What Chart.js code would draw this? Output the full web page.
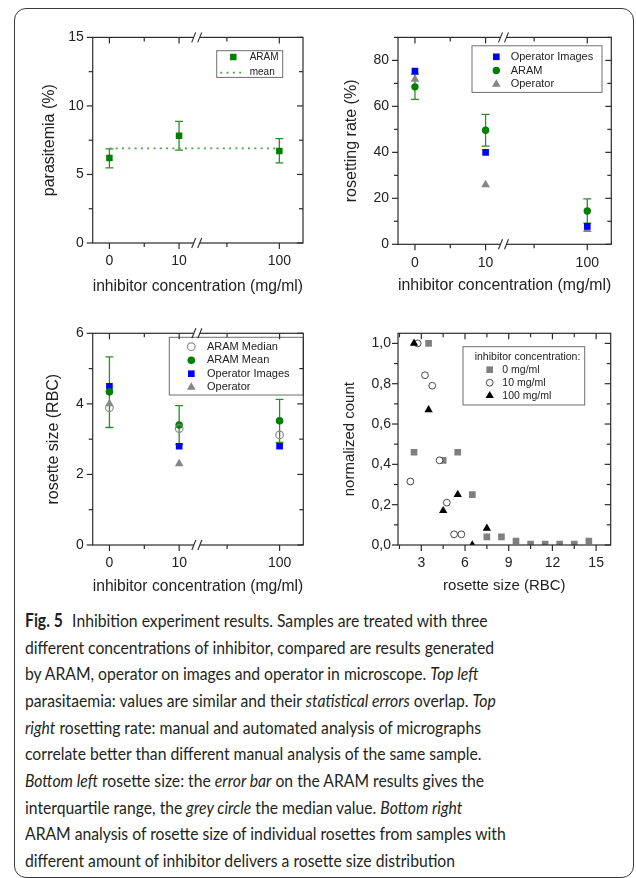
<!DOCTYPE html>
<html>
<head>
<meta charset="utf-8">
<script src="https://cdn.jsdelivr.net/npm/chart.js@4.4.1/dist/chart.umd.min.js"></script>
<style>
  body { margin: 0; background: #fff; width: 636px; height: 878px; position: relative; overflow: hidden; }
  #frame { position: absolute; left: 14px; top: 8px; width: 618px; height: 868px; border: 1.3px solid #3a3a3a; border-radius: 12px; }
  canvas { position: absolute; }
  #caption { position: absolute; left: 25px; top: 607px; font-family: Lato, 'Open Sans', sans-serif; font-size: 18px; line-height: 26.67px; color: #231f20; white-space: nowrap; transform-origin: 0 0; }
  #caption b { font-weight: 700; margin-right: 6px; }
  #line9 { display: inline-block; }
</style>
</head>
<body>
<div id="frame"></div>
<canvas id="tl" width="300" height="285" style="left:20px;top:20px"></canvas>
<canvas id="tr" width="300" height="285" style="left:325px;top:20px"></canvas>
<canvas id="bl" width="300" height="305" style="left:20px;top:300px"></canvas>
<canvas id="br" width="300" height="305" style="left:325px;top:300px"></canvas>
<div id="caption">
  <div><b>Fig. 5</b> Inhibition experiment results. Samples are treated with three</div>
  <div>different concentrations of inhibitor, compared are results generated</div>
  <div>by ARAM, operator on images and operator in microscope. <i>Top left</i></div>
  <div>parasitaemia: values are similar and their <i>statistical errors</i> overlap. <i>Top</i></div>
  <div><i>right</i> rosetting rate: manual and automated analysis of micrographs</div>
  <div>correlate better than different manual analysis of the same sample.</div>
  <div><i>Bottom left</i> rosette size: the <i>error bar</i> on the ARAM results gives the</div>
  <div>interquartile range, the <i>grey circle</i> the median value. <i>Bottom right</i></div>
  <div><span id="line9">ARAM analysis of rosette size of individual rosettes from samples with</span></div>
  <div>different amount of inhibitor delivers a rosette size distribution</div>
</div>
<script>
//inhibitor concentrations (mg/ml), shown on a broken axis
const concValues = [0, 10, 100];
const concLabels = ["0", "10", "100"];
const concMinor = [5, 30];
const concBreak = 15;

//top left: parasitemia (%)
const parasitemiaAram = [6.2, 7.82, 6.72];
const parasitemiaLow = [5.48, 6.77, 5.84];
const parasitemiaHigh = [6.87, 8.88, 7.61];
const parasitemiaMean = 6.91;
const parasitemiaTicks = [0, 5, 10, 15];
const parasitemiaMinor = [2.5, 7.5, 12.5];

//top right: rosetting rate (%)
const rateOperatorImages = [75.3, 40.0, 7.8];
const rateAram = [68.5, 49.6, 14.5];
const rateAramLow = [63.0, 42.7, 9.2];
const rateAramHigh = [74.0, 56.5, 19.8];
const rateOperator = [71.8, 25.9, 6.4];
const rateTicks = [0, 20, 40, 60, 80];
const rateMinor = [10, 30, 50, 70, 90];

//bottom left: rosette size (RBC)
const sizeAramMedian = [3.89, 3.3, 3.12];
const sizeAramMean = [4.34, 3.4, 3.52];
const sizeAramQ1 = [3.33, 2.85, 2.91];
const sizeAramQ3 = [5.33, 3.95, 4.13];
const sizeOperatorImages = [4.5, 2.8, 2.8];
const sizeOperator = [4.0, 2.3, null];
const sizeTicks = [0, 2, 4, 6];
const sizeMinor = [1, 3, 5];

//bottom right: rosette size distribution
const bins0 = [2.5, 3.5, 4.5, 5.5, 6.5, 7.5, 8.5, 9.5, 10.5, 11.5, 12.5, 13.5, 14.5];
const count0 = [0.46, 1.0, 0.42, 0.46, 0.25, 0.04, 0.04, 0.02, 0.005, 0.005, 0.005, 0.005, 0.02];
const bins10 = [2.25, 2.75, 3.25, 3.75, 4.25, 4.75, 5.25, 5.75];
const count10 = [0.315, 1.0, 0.842, 0.79, 0.42, 0.21, 0.053, 0.053];
const bins100 = [2.5, 3.5, 4.5, 5.5, 6.5, 7.5];
const count100 = [1.0, 0.67, 0.17, 0.25, 0.0, 0.083];
const distXTicks = [3, 6, 9, 12, 15];
const distXMinor = [1.5, 4.5, 7.5, 10.5, 13.5];
const distYTicks = [0, 0.2, 0.4, 0.6, 0.8, 1.0];
const distYMinor = [0.1, 0.3, 0.5, 0.7, 0.9];

const GREEN = "#008000";
const BAR_GREEN = "#2e8b2e";
const BLUE = "#0000ff";
const GREY = "#858585";
const TEXT = "#222";

Chart.defaults.font.family = "'Liberation Sans', Arial, sans-serif";
Chart.defaults.color = TEXT;

//0..10 linear, then squeezed after the break up to 100
const xPos = (c) => (c <= 10 ? c / 10 : 1 + Math.log10(c / 10) * 1.44);
const pts = (xs, ys) => xs.map((x, i) => ({ x: x, y: ys[i] }));
const concPts = (ys) => pts(concValues.map(xPos), ys);

function drawMarker(ctx, ds, x, y) {
  const r = ds.pointRadius;
  ctx.beginPath();
  if (ds.pointStyle === "rect") {
    const s = r * Math.SQRT1_2;
    ctx.rect(x - s, y - s, 2 * s, 2 * s);
  } else if (ds.pointStyle === "triangle") {
    let rad = 0;
    ctx.moveTo(x, y - r);
    for (let k = 0; k < 2; k++) {
      rad += (2 * Math.PI) / 3;
      ctx.lineTo(x + Math.sin(rad) * r, y - Math.cos(rad) * r);
    }
    ctx.closePath();
  } else {
    ctx.arc(x, y, r, 0, Math.PI * 2);
  }
  ctx.fillStyle = ds.pointBackgroundColor;
  ctx.fill();
  if (ds.pointBorderWidth) {
    ctx.lineWidth = ds.pointBorderWidth;
    ctx.strokeStyle = ds.pointBorderColor;
    ctx.stroke();
  }
}

//error bars under the markers
const errorBars = {
  id: "errorBars",
  beforeDatasetsDraw(chart) {
    const { ctx } = chart;
    const y = chart.scales.y;
    chart.data.datasets.forEach((ds, k) => {
      if (!ds.errLow) return;
      ctx.save();
      ctx.strokeStyle = BAR_GREEN;
      ctx.lineWidth = 1.3;
      chart.getDatasetMeta(k).data.forEach((pt, i) => {
        const lo = y.getPixelForValue(ds.errLow[i]);
        const hi = y.getPixelForValue(ds.errHigh[i]);
        ctx.beginPath();
        ctx.moveTo(pt.x, lo);
        ctx.lineTo(pt.x, hi);
        ctx.moveTo(pt.x - 4, lo);
        ctx.lineTo(pt.x + 4, lo);
        ctx.moveTo(pt.x - 4, hi);
        ctx.lineTo(pt.x + 4, hi);
        ctx.stroke();
      });
      ctx.restore();
    });
  },
};

//box, ticks in/out and the axis break
const frame = {
  id: "frame",
  afterDraw(chart, args, o) {
    const { ctx, chartArea: a } = chart;
    const { x, y } = chart.scales;
    ctx.save();
    ctx.strokeStyle = "#2b2b2b";
    ctx.lineWidth = 1.2;
    ctx.strokeRect(a.left, a.top, a.right - a.left, a.bottom - a.top);
    const line = (x0, y0, x1, y1) => {
      ctx.beginPath();
      ctx.moveTo(x0, y0);
      ctx.lineTo(x1, y1);
      ctx.stroke();
    };
    const yTicks = (vals, len) =>
      vals.forEach((v) => {
        const py = y.getPixelForValue(v);
        line(a.left - len, py, a.left, py);
        line(a.right, py, a.right - len, py);
      });
    const xTicks = (vals, len) =>
      vals.forEach((v) => {
        const px = x.getPixelForValue(v);
        line(px, a.bottom, px, a.bottom + len);
        line(px, a.top, px, a.top + len);
      });
    yTicks(o.yMajor, 6);
    yTicks(o.yMinor, 4);
    xTicks(o.xMajor, 6);
    xTicks(o.xMinor, 4);
    if (o.breakAt != null) {
      const px = x.getPixelForValue(o.breakAt);
      [a.top, a.bottom].forEach((py) => {
        ctx.fillStyle = "#fff";
        ctx.fillRect(px - 3, py - 2, 6, 4);
        ctx.lineWidth = 1.1;
        line(px - 5, py + 5, px - 1, py - 5);
        line(px + 1, py + 5, px + 5, py - 5);
      });
    }
    ctx.restore();
  },
};

//legend box inside the plot area
const boxLegend = {
  id: "boxLegend",
  afterDatasetsDraw(chart, args, o) {
    if (!o.width) return;
    const { ctx, chartArea: a } = chart;
    const x0 = a.right - o.right - o.width;
    const y0 = a.top + o.top;
    ctx.save();
    ctx.fillStyle = "#fff";
    ctx.fillRect(x0, y0, o.width, o.height);
    ctx.strokeStyle = "#6e6e6e";
    ctx.lineWidth = 1;
    ctx.strokeRect(x0, y0, o.width, o.height);
    ctx.font = o.fontSize + "px 'Liberation Sans', Arial, sans-serif";
    ctx.textBaseline = "middle";
    let row = 0;
    if (o.title) {
      ctx.fillStyle = TEXT;
      ctx.fillText(o.title, x0 + o.titleX, y0 + o.firstRow);
      row = 1;
    }
    o.order.forEach((k) => {
      const ds = chart.data.datasets[k];
      const yy = y0 + o.firstRow + row * o.rowGap;
      if (ds.showLine) {
        ctx.save();
        ctx.strokeStyle = ds.borderColor;
        ctx.lineWidth = ds.borderWidth;
        ctx.setLineDash(ds.borderDash);
        ctx.beginPath();
        ctx.moveTo(x0 + o.markerX - 13, yy);
        ctx.lineTo(x0 + o.markerX + 11, yy);
        ctx.stroke();
        ctx.restore();
      } else {
        drawMarker(ctx, ds, x0 + o.markerX, yy);
      }
      ctx.fillStyle = TEXT;
      ctx.fillText(ds.label, x0 + o.textX, yy);
      row++;
    });
    ctx.restore();
  },
};

function axis(c) {
  return {
    type: "linear",
    min: c.min,
    max: c.max,
    afterBuildTicks: (s) => {
      s.ticks = c.ticks.map((v) => ({ value: v }));
    },
    afterFit: (s) => {
      if (c.width) s.width = c.width;
      if (c.height) s.height = c.height;
    },
    grid: { display: false, drawTicks: false },
    border: { display: false },
    ticks: {
      autoSkip: false,
      maxRotation: 0,
      padding: c.tickPad,
      font: { size: 14 },
      color: TEXT,
      callback: c.labels,
    },
    title: {
      display: true,
      text: c.title,
      color: TEXT,
      font: { size: c.titleSize || 16 },
      padding: c.titlePad,
    },
  };
}

function makePanel(id, p) {
  return new Chart(document.getElementById(id), {
    type: "scatter",
    data: { datasets: p.datasets },
    options: {
      responsive: false,
      animation: false,
      events: [],
      layout: { padding: { top: p.padTop, right: p.padRight, left: 0, bottom: 0 } },
      plugins: {
        legend: { display: false },
        tooltip: { enabled: false },
        frame: p.frame,
        boxLegend: p.legend,
      },
      scales: { x: p.x, y: p.y },
    },
    plugins: [errorBars, frame, boxLegend],
  });
}

const concAxis = (height, titlePad) =>
  axis({
    min: -0.24,
    max: 2.78,
    ticks: concValues.map(xPos),
    labels: (v, i) => concLabels[i],
    height: height,
    tickPad: 10,
    title: "inhibitor concentration (mg/ml)",
    titlePad: { top: 0, bottom: titlePad },
  });

const concFrame = (yMajor, yMinor) => ({
  yMajor: yMajor,
  yMinor: yMinor,
  xMajor: concValues.map(xPos),
  xMinor: concMinor.map(xPos),
  breakAt: xPos(concBreak),
});

const sq = (color, r) => ({ pointStyle: "rect", pointRadius: r, pointBackgroundColor: color, pointBorderWidth: 0 });
const dot = (color, r) => ({ pointStyle: "circle", pointRadius: r, pointBackgroundColor: color, pointBorderWidth: 0 });
const tri = (color, r) => ({ pointStyle: "triangle", pointRadius: r, pointBackgroundColor: color, pointBorderWidth: 0 });

//top left
makePanel("tl", {
  padTop: 14,
  padRight: 17,
  datasets: [
    { label: "ARAM", data: concPts(parasitemiaAram), errLow: parasitemiaLow, errHigh: parasitemiaHigh, ...sq(GREEN, 4.6) },
    {
      label: "mean",
      type: "line",
      showLine: true,
      data: pts([0, 100].map(xPos), [parasitemiaMean, parasitemiaMean]),
      borderColor: "#4fa04f",
      borderWidth: 1.8,
      borderDash: [2, 4.3],
      pointRadius: 0,
    },
  ],
  x: concAxis(62, 8.7),
  y: axis({
    min: 0, max: 15, ticks: parasitemiaTicks, labels: (v) => v, width: 72.7, tickPad: 9,
    title: "parasitemia (%)", titlePad: { top: 19.7, bottom: 0 },
  }),
  frame: concFrame(parasitemiaTicks, parasitemiaMinor),
  legend: { right: 20.3, top: 13.3, width: 66, height: 26.7, fontSize: 10, firstRow: 6.3, rowGap: 15.6, markerX: 16.6, textX: 33, order: [0, 1] },
});

//top right
makePanel("tr", {
  padTop: 12.3,
  padRight: 13.7,
  datasets: [
    { label: "Operator Images", data: concPts(rateOperatorImages), ...sq(BLUE, 4.7) },
    { label: "ARAM", data: concPts(rateAram), errLow: rateAramLow, errHigh: rateAramHigh, ...dot(GREEN, 3.7) },
    { label: "Operator", data: concPts(rateOperator), ...tri(GREY, 5) },
  ],
  x: concAxis(60.7, 9.7),
  y: axis({
    min: 0, max: 90, ticks: rateTicks, labels: (v) => v, width: 73, tickPad: 9,
    title: "rosetting rate (%)", titlePad: { top: 16.7, bottom: 0 },
  }),
  frame: concFrame(rateTicks, rateMinor),
  legend: { right: 9.3, top: 8.4, width: 130, height: 46.6, fontSize: 11, firstRow: 11, rowGap: 13.7, markerX: 24.3, textX: 38.7, order: [0, 1, 2] },
});

//bottom left
makePanel("bl", {
  padTop: 33.3,
  padRight: 16.7,
  datasets: [
    {
      label: "ARAM Median",
      data: concPts(sizeAramMedian),
      pointStyle: "circle",
      pointRadius: 3.8,
      pointBackgroundColor: "rgba(255,255,255,0)",
      pointBorderColor: "#8c8c8c",
      pointBorderWidth: 1.2,
    },
    { label: "ARAM Mean", data: concPts(sizeAramMean), errLow: sizeAramQ1, errHigh: sizeAramQ3, ...dot(GREEN, 3.8) },
    { label: "Operator Images", data: concPts(sizeOperatorImages), ...sq(BLUE, 4.7) },
    { label: "Operator", data: concPts(sizeOperator), ...tri(GREY, 5) },
  ],
  x: concAxis(60, 8.4),
  y: axis({
    min: 0, max: 6, ticks: sizeTicks, labels: (v) => v, width: 72.7, tickPad: 9,
    title: "rosette size (RBC)", titlePad: { top: 23.7, bottom: 0 },
  }),
  frame: concFrame(sizeTicks, sizeMinor),
  legend: { right: 0, top: 4, width: 134, height: 57.7, fontSize: 11, firstRow: 9.4, rowGap: 13.5, markerX: 22, textX: 37.7, order: [0, 1, 2, 3] },
});

//bottom right
makePanel("br", {
  padTop: 33.3,
  padRight: 14.3,
  datasets: [
    { label: "0 mg/ml", data: pts(bins0, count0), order: 3, clip: 0, ...sq("#7f7f7f", 4.7) },
    {
      label: "10 mg/ml",
      data: pts(bins10, count10),
      order: 2,
      clip: 0,
      pointStyle: "circle",
      pointRadius: 3.4,
      pointBackgroundColor: "#fff",
      pointBorderColor: "#333",
      pointBorderWidth: 0.9,
    },
    { label: "100 mg/ml", data: pts(bins100, count100), order: 1, clip: 0, ...tri("#000", 4.8) },
  ],
  x: axis({
    min: 1.4, max: 16, ticks: distXTicks, labels: (v) => v, height: 60, tickPad: 10,
    title: "rosette size (RBC)", titleSize: 15, titlePad: { top: 0, bottom: 10 },
  }),
  y: axis({
    min: 0, max: 1.05, ticks: distYTicks, labels: (v) => v.toFixed(1).replace(".", ","), width: 73, tickPad: 7,
    title: "normalized count", titleSize: 15, titlePad: { top: 15.7, bottom: 0 },
  }),
  frame: { yMajor: distYTicks, yMinor: distYMinor, xMajor: distXTicks, xMinor: distXMinor, breakAt: null },
  legend: {
    right: 26, top: 13.4, width: 121.7, height: 58.3, fontSize: 10.5, title: "inhibitor concentration:", titleX: 11.7,
    firstRow: 10, rowGap: 13, markerX: 26.7, textX: 39.3, order: [0, 1, 2],
  },
});

//caption: squeeze the text to the column width of the figure
//(offsetWidth ignores the transform, so this can run again once fonts are in)
const caption = document.getElementById("caption");
const widest = document.getElementById("line9");
const fitCaption = () => {
  caption.style.transform = "scaleX(" + 481 / widest.offsetWidth + ")";
};
fitCaption();
if (document.fonts) document.fonts.ready.then(fitCaption);
</script>
</body>
</html>
